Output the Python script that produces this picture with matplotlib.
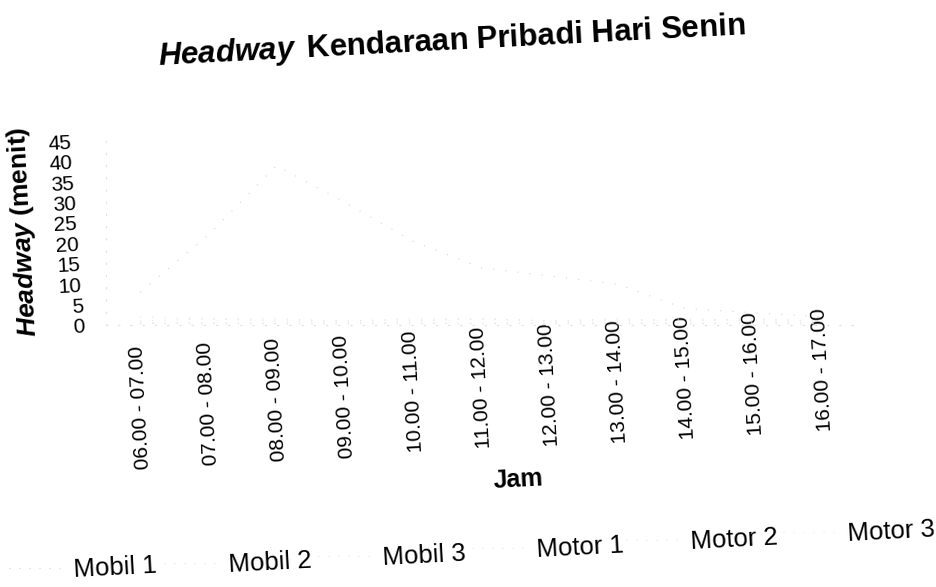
import matplotlib
matplotlib.use("Agg")
import matplotlib.pyplot as plt
from matplotlib.lines import Line2D

plt.rcParams['font.family'] = ['Liberation Sans', 'DejaVu Sans']
plt.rcParams['mathtext.fontset'] = 'custom'
plt.rcParams['mathtext.rm'] = 'Liberation Sans:bold'
plt.rcParams['mathtext.it'] = 'Liberation Sans:italic:bold'
plt.rcParams['mathtext.bf'] = 'Liberation Sans:bold'

# ---- data (headway in minutes) ----
hours = ['06.00 - 07.00', '07.00 - 08.00', '08.00 - 09.00', '09.00 - 10.00',
         '10.00 - 11.00', '11.00 - 12.00', '12.00 - 13.00', '13.00 - 14.00',
         '14.00 - 15.00', '15.00 - 16.00', '16.00 - 17.00']
series_names = ['Mobil 1', 'Mobil 2', 'Mobil 3', 'Motor 1', 'Motor 2', 'Motor 3']
mobil_1 = [8, 22, 39, 30, 20.5, 14, 12, 10, 4, 3, 2]
mobil_2 = [2, 1.5, 1.5, 1, 1.5, 1.5, 1, 1.5, 1, 1.5, 1]
mobil_3 = [1, 1.5, 1, 1, 1, 1.5, 1, 1, 1.5, 1, 1]
motor_1 = [0.5, 0.5, 0.4, 0.5, 0.5, 0.4, 0.5, 0.5, 0.4, 0.5, 0.5]
motor_2 = [0.4, 0.3, 0.4, 0.4, 0.3, 0.4, 0.3, 0.4, 0.4, 0.3, 0.4]
motor_3 = [0.3, 0.4, 0.3, 0.3, 0.4, 0.3, 0.4, 0.3, 0.3, 0.4, 0.3]
yticks = [0, 5, 10, 15, 20, 25, 30, 35, 40, 45]

all_series = [mobil_1, mobil_2, mobil_3, motor_1, motor_2, motor_3]
faded = ['#d6d6d6', '#e2e2e2', '#e4e4e4', '#e3e3e3', '#e6e6e6', '#e8e8e8']

W, H = 936, 587
fig = plt.figure(figsize=(W / 100, H / 100), dpi=100)

ax_l, ax_r = 106, 856
ax_t, ax_b = 141, 325
ax = fig.add_axes([ax_l / W, 1 - ax_b / H, (ax_r - ax_l) / W, (ax_b - ax_t) / H])

x = list(range(len(hours)))
lines = []
for vals, col in zip(all_series, faded):
    ln, = ax.plot(x, vals, color=col, lw=0.8, ls=(0, (1, 10)))
    lines.append(ln)

ax.set_xlim(-0.5, len(hours) - 0.5)
ax.set_ylim(0, 45)
for s in ['top', 'right']:
    ax.spines[s].set_visible(False)
for s in ['left', 'bottom']:
    ax.spines[s].set_color('#e0e0e0')
    ax.spines[s].set_linestyle((0, (1, 10)))
    ax.spines[s].set_linewidth(0.8)

ax.set_xticks(x, hours, rotation=93, fontsize=15)
ax.set_yticks(yticks)
ax.tick_params(axis='both', length=0)
ax.tick_params(axis='y', labelsize=15, labelrotation=3)

# tilted (scanned) look: vary label pads along the axes
for i, t in enumerate(ax.xaxis.get_major_ticks()[:len(hours)]):
    t.set_pad((20 - 3.7 * i) * 0.72)
for v, t in zip(yticks, ax.yaxis.get_major_ticks()[:len(yticks)]):
    t.set_pad((21 + 13 * v / 45) * 0.72)

ax.set_xlabel('Jam', fontsize=18, fontweight='bold', rotation=3)
ax.xaxis.set_label_coords((518 - ax_l) / (ax_r - ax_l), -(480 - ax_b) / (ax_b - ax_t))
ax.xaxis.label.set_va('center')

ax.set_ylabel(r'$\mathit{Headway}$ (menit)', fontsize=19, fontweight='bold', rotation=93)
ax.yaxis.set_label_coords(-(ax_l - 24) / (ax_r - ax_l), (ax_b - 232) / (ax_b - ax_t))
ax.yaxis.label.set_va('center')
ax.yaxis.label.set_ha('center')

fig.text(452 / W, 1 - 50 / H, r'$\mathit{Headway}\,$ Kendaraan Pribadi Hari Senin',
         fontsize=22.5, fontweight='bold', ha='center', va='baseline',
         rotation=3, rotation_mode='anchor')

# legend entries along the tilted bottom edge
text_left = [73, 228, 382, 536, 690, 847]
text_cy = [568, 563, 556, 548, 540, 532]
for ln, name, tx, ty in zip(lines, series_names, text_left, text_cy):
    h = Line2D([], [], color=ln.get_color(), lw=0.8, ls=(0, (1, 8)))
    leg = fig.legend([h], [name], loc='center left', frameon=False,
                     fontsize=18.5, handlelength=2.0, handletextpad=0.5,
                     borderpad=0, borderaxespad=0,
                     bbox_to_anchor=((tx - 64) / W, 1 - ty / H))
    for txt in leg.get_texts():
        txt.set_rotation(3)

fig.savefig('out.png', dpi=100)
